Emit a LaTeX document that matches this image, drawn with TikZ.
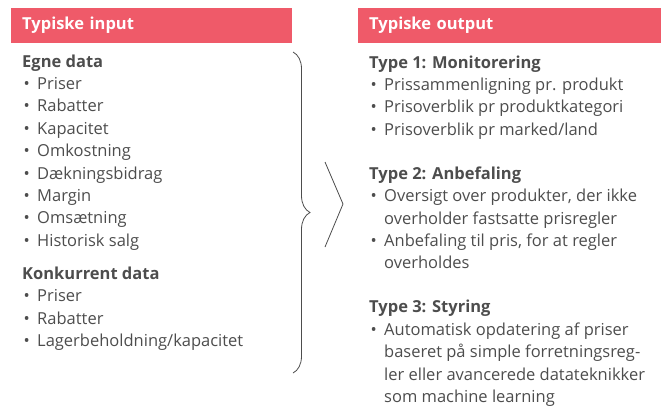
\documentclass[tikz,border=0pt]{standalone}
\usepackage{fontspec}
\setmainfont{Open Sans}
\usetikzlibrary{positioning}
\usetikzlibrary{decorations.pathreplacing}

\definecolor{hdrred}{RGB}{239,90,105}
\definecolor{txtgray}{RGB}{77,77,77}

\newcommand{\hd}[1]{\strut\textbf{#1}}
\newcommand{\itm}[1]{\strut\makebox[15pt][l]{\hspace{1.5pt}\textbullet}#1}
\newcommand{\cnt}[1]{\strut\hspace*{15pt}#1}

\begin{document}
\begin{tikzpicture}[x=1pt, y=-1pt,
  hdr/.style={fill=hdrred, text=white, anchor=north west,
    font=\fontsize{16.5}{20}\selectfont\bfseries,
    minimum height=35pt, inner xsep=11pt, inner ysep=0pt, align=left},
  blk/.style={text=txtgray, anchor=north west, inner sep=0pt,
    font=\fontsize{16.5}{22.4}\selectfont, align=left},
  bracket/.style={draw=txtgray, line width=0.8pt,
    decorate, decoration={brace, amplitude=17pt}}]
  \useasboundingbox (0,0) rectangle (661,405);

  \node[hdr, text width=259pt] (inhdr) at (11,8) {Typiske input};
  \node[hdr, text width=281pt] (outhdr) at (358,8) {Typiske output};

  \node[blk] (egne) at (22,51.3) {\hd{Egne data}\\
    \itm{Priser}\\
    \itm{Rabatter}\\
    \itm{Kapacitet}\\
    \itm{Omkostning}\\
    \itm{Dækningsbidrag}\\
    \itm{Margin}\\
    \itm{Omsætning}\\
    \itm{Historisk salg}};
  \node[blk, below=10.4pt of egne.south west, anchor=north west] (konk) {\hd{Konkurrent data}\\
    \itm{Priser}\\
    \itm{Rabatter}\\
    \itm{Lagerbeholdning/kapacitet}};

  \node[blk] (type1) at (369,52.3) {\hd{Type 1: Monitorering}\\
    \itm{Prissammenligning pr. produkt}\\
    \itm{Prisoverblik pr produktkategori}\\
    \itm{Prisoverblik pr marked/land}};
  \node[blk, below=21.2pt of type1.south west, anchor=north west] (type2) {\hd{Type 2: Anbefaling}\\
    \itm{Oversigt over produkter, der ikke}\\
    \cnt{overholder fastsatte prisregler}\\
    \itm{Anbefaling til pris, for at regler}\\
    \cnt{overholdes}};
  \node[blk, below=21.2pt of type2.south west, anchor=north west] (type3) {\hd{Type 3: Styring}\\
    \itm{Automatisk opdatering af priser}\\
    \cnt{baseret på simple forretningsreg-}\\
    \cnt{ler eller avancerede datateknikker}\\
    \cnt{som machine learning}};

  \draw[bracket] (293,52) -- (293,373);
  \draw[txtgray, line width=0.8pt] (325,162) -- (343,204) -- (325,247);
\end{tikzpicture}
\end{document}
